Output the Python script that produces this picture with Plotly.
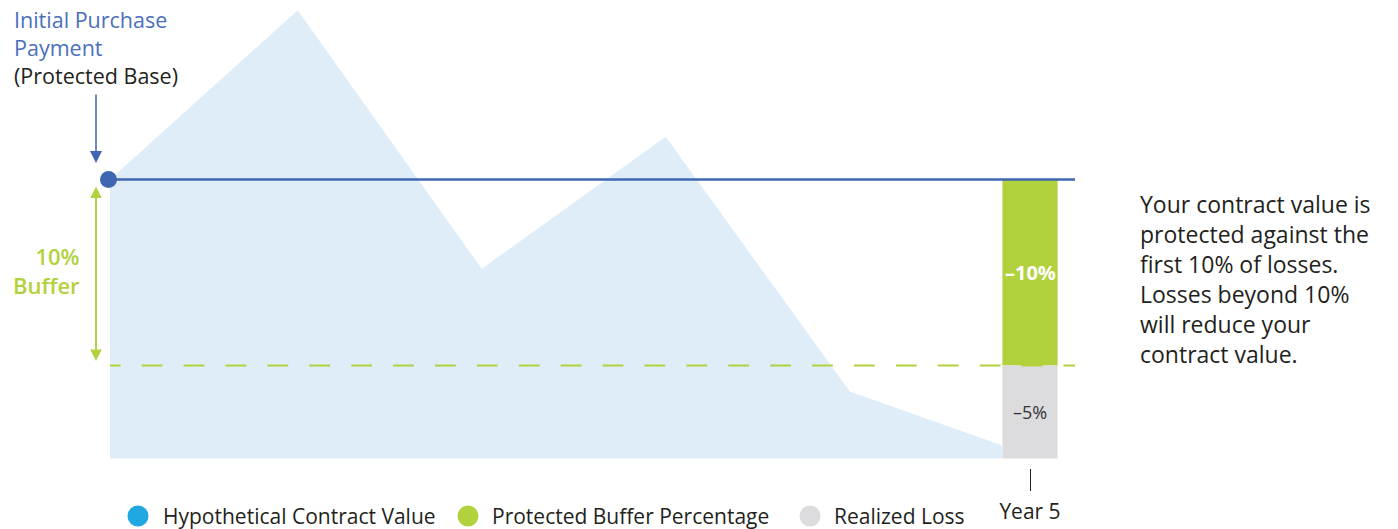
import plotly.graph_objects as go

# ---- data -------------------------------------------------------------
path_years = [0, 1.02, 2.02, 3.02, 4.02, 4.85]
contract_value = [100, 109.1, 95.2, 102.3, 88.6, 85.7]
protected_base = 100
buffer_pct = 10
realized_loss_pct = 5
bar_year = 5
tick_labels = ["Year 5"]
legend_labels = ["Hypothetical Contract Value", "Protected Buffer Percentage", "Realized Loss"]
note_lines = [
    "Your contract value is",
    "protected against the",
    "first 10% of losses.",
    "Losses beyond 10%",
    "will reduce your",
    "contract value.",
]

buffer_floor = protected_base - buffer_pct
loss_floor = buffer_floor - realized_loss_pct

# ---- layout helpers ---------------------------------------------------
W, H = 1398, 529
PLOT_H = 468                      # plot area height in px (bottom margin below)
X0_PX, PX_PER_YEAR = 110, 184.0
Y_REF_PX, PX_PER_UNIT = 179.5, 18.6

x_range = [-X0_PX / PX_PER_YEAR, (W - X0_PX) / PX_PER_YEAR]
y_range = [protected_base - (PLOT_H - Y_REF_PX) / PX_PER_UNIT,
           protected_base + Y_REF_PX / PX_PER_UNIT]


def px_x(px):
    return px / W


def px_y(py):
    return 1 - py / PLOT_H


def data_x(px):
    return (px - X0_PX) / PX_PER_YEAR


BLUE = "#3F66B1"
LABEL_BLUE = "#4A70BD"
GREEN = "#B1D23C"
GREY = "#DCDCDE"
AREA = "#DFEDF9"
CYAN = "#1FA8E1"
TEXT = "#231F20"
FONT = "Open Sans"

bar_width = 0.3
line_end = data_x(1075)

fig = go.Figure()

# hypothetical contract value path, filled down to the loss floor
fig.add_trace(go.Scatter(
    x=path_years + [path_years[-1], path_years[0]],
    y=contract_value + [loss_floor, loss_floor],
    fill="toself", fillcolor=AREA, mode="none", hoverinfo="skip",
))

# buffer and realized loss bars
fig.add_trace(go.Bar(
    x=[bar_year], y=[buffer_pct], base=[buffer_floor], width=bar_width,
    marker=dict(color=GREEN, line=dict(width=0)),
))
fig.add_trace(go.Bar(
    x=[bar_year], y=[realized_loss_pct], base=[loss_floor], width=bar_width,
    marker=dict(color=GREY, line=dict(width=0)),
))

# dashed buffer floor (first dash starts part-way through the pattern)
dash_parts = ["10.6px"] + ["21.1px", "20.8px"] * 26
fig.add_trace(go.Scatter(
    x=[0, line_end], y=[buffer_floor, buffer_floor], mode="lines",
    line=dict(color=GREEN, width=2, dash=",".join(dash_parts)), hoverinfo="skip",
))

# protected base line and starting point
fig.add_trace(go.Scatter(
    x=[0, line_end], y=[protected_base, protected_base], mode="lines",
    line=dict(color=BLUE, width=2.7), hoverinfo="skip",
))
fig.add_trace(go.Scatter(
    x=[data_x(108.5)], y=[protected_base], mode="markers",
    marker=dict(color=BLUE, size=17, line=dict(width=0)), cliponaxis=False,
))

# legend swatches below the axis
legend_px = [138, 468, 810]
legend_text_px = [161, 490, 832]
legend_colors = [CYAN, GREEN, GREY]
shapes = []
for cx, col in zip(legend_px, legend_colors):
    shapes.append(dict(
        type="circle", xref="paper", yref="paper",
        xsizemode="pixel", ysizemode="pixel",
        xanchor=px_x(cx), yanchor=px_y(516),
        x0=-10.5, x1=10.5, y0=-10.5, y1=10.5,
        fillcolor=col, line=dict(width=0), layer="above",
    ))

annotations = []

# bar value labels
annotations.append(dict(
    x=bar_year, y=buffer_floor + buffer_pct / 2, xref="x", yref="y",
    text=f"\u2013{buffer_pct}%", showarrow=False,
    font=dict(family=FONT, size=20, color="white", weight="bold"),
))
annotations.append(dict(
    x=bar_year, y=loss_floor + realized_loss_pct / 2, xref="x", yref="y",
    text=f"\u2013{realized_loss_pct}%", showarrow=False,
    font=dict(family=FONT, size=18, color="#333333"),
))

# arrow pointing at the protected base
annotations.append(dict(
    x=px_x(96), y=px_y(163), xref="paper", yref="paper",
    ax=0, ay=-70, text="", showarrow=True, arrowhead=2, arrowsize=1.6,
    arrowwidth=1.5, arrowcolor=BLUE, standoff=0,
))
# double arrow spanning the buffer
annotations.append(dict(
    x=px_x(96), y=px_y(361), xref="paper", yref="paper",
    ax=0, ay=-176, text="", showarrow=True, arrowside="end+start",
    arrowhead=2, startarrowhead=2, arrowsize=1.15, startarrowsize=1.15,
    arrowwidth=2, arrowcolor=GREEN, standoff=0, startstandoff=0,
))

# upper-left label
annotations.append(dict(
    x=px_x(12), y=px_y(2.5), xref="paper", yref="paper",
    text=("Initial Purchase<br>Payment<br>"
          f"<span style='color:{TEXT}'>(Protected Base)</span>"),
    showarrow=False, xanchor="left", yanchor="top", align="left",
    font=dict(family=FONT, size=21.5, color=LABEL_BLUE),
))

# buffer label
annotations.append(dict(
    x=px_x(82), y=px_y(270.5), xref="paper", yref="paper",
    text="10%<br>Buffer", showarrow=False,
    xanchor="right", yanchor="middle", align="right",
    font=dict(family=FONT, size=22, color=GREEN, weight=600),
))

# explanatory note
annotations.append(dict(
    x=px_x(1138), y=px_y(279), xref="paper", yref="paper",
    text="<br>".join(note_lines), showarrow=False,
    xanchor="left", yanchor="middle", align="left",
    font=dict(family=FONT, size=23, color=TEXT),
))

# legend labels
for txt, px in zip(legend_labels, legend_text_px):
    annotations.append(dict(
        x=px_x(px), y=px_y(516), xref="paper", yref="paper", text=txt,
        showarrow=False, xanchor="left", yanchor="middle",
        font=dict(family=FONT, size=21, color=TEXT),
    ))

fig.update_layout(
    width=W, height=H,
    margin=dict(l=0, r=0, t=0, b=H - PLOT_H, pad=0),
    paper_bgcolor="white", plot_bgcolor="white",
    showlegend=False, barmode="overlay",
    annotations=annotations, shapes=shapes,
    font=dict(family=FONT, color=TEXT),
)
fig.update_xaxes(
    range=x_range, showgrid=False, zeroline=False, showline=False,
    tickmode="array", tickvals=[bar_year], ticktext=tick_labels,
    ticks="outside", ticklen=22, tickwidth=1, tickcolor=TEXT,
    tickfont=dict(family=FONT, size=21, color=TEXT), ticklabelstandoff=3,
)
fig.update_yaxes(
    range=y_range, showgrid=False, zeroline=False, showline=False,
    showticklabels=False, ticks="",
)

fig.write_html("out.html")
